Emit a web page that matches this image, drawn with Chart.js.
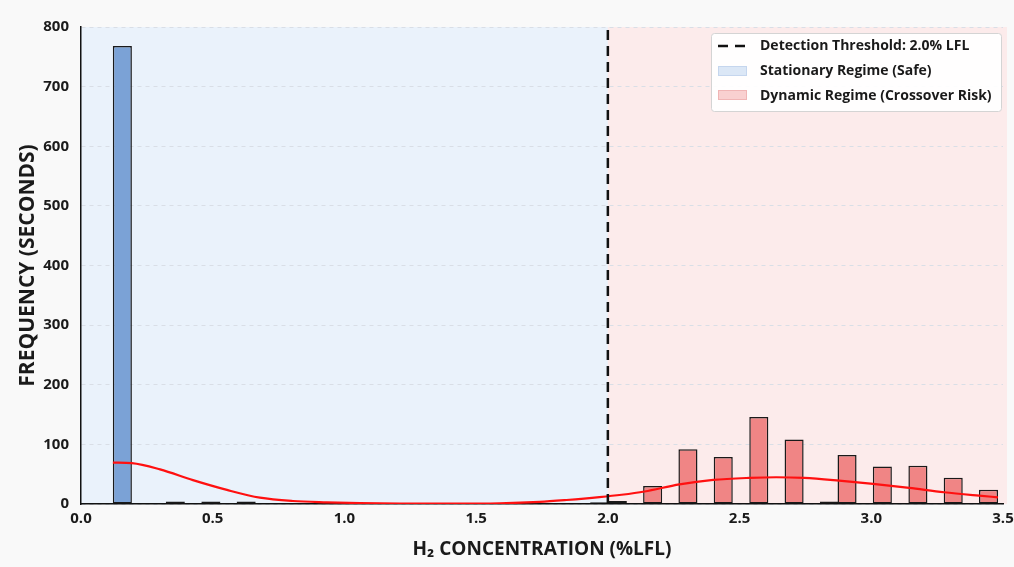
<!DOCTYPE html>
<html><head><meta charset="utf-8">
<script src="https://cdn.jsdelivr.net/npm/chart.js@4.4.1/dist/chart.umd.min.js"></script>
<style>html,body{margin:0;padding:0;background:#f7f7f7;}#wrap{width:1014px;height:567px;}</style>
</head><body><div id="wrap"><canvas id="c" width="1014" height="567"></canvas></div>
<script>
// Histogram bin centres (%LFL)
const binCenters = [0.157,0.224,0.291,0.358,0.425,0.493,0.560,0.627,0.694,0.761,
  0.828,0.895,0.962,1.029,1.096,1.164,1.231,1.298,1.365,1.432,
  1.499,1.566,1.633,1.700,1.767,1.835,1.902,1.969,2.036,2.103,
  2.170,2.237,2.304,2.371,2.438,2.506,2.573,2.640,2.707,2.774,
  2.841,2.908,2.975,3.042,3.109,3.177,3.244,3.311,3.378,3.445];
// Seconds in each bin, stationary regime
const stationaryCounts = [768,0,0,4,0,4,0,4,0,1,
  1,0,0,0,0,0,0,0,0,0,
  0,0,0,0,0,0,0,3,5,0,
  0,0,0,0,0,0,0,0,0,0,
  0,0,0,0,0,0,0,0,0,0];
// Seconds in each bin, dynamic regime
const dynamicCounts = [0,0,0,0,0,0,0,0,0,0,
  0,0,0,0,0,0,0,0,0,0,
  0,0,0,0,0,0,0,0,0,0,
  30,0,92,0,79,0,146,0,108,0,
  4,82,0,63,0,64,0,44,0,24];
// KDE curve
const kdeX = [0.121,0.193,0.300,0.425,0.554,0.679,0.804,0.933,1.058,1.21,1.40,1.589,1.741,1.843,1.968,2.052,2.139,2.272,2.400,2.537,2.639,2.745,2.878,3.007,3.144,3.276,3.409,3.481];
const kdeY = [69.5,68.5,58,40,23.6,10.6,5,2.8,1.5,0.8,0.7,1.2,3.5,6.7,11.5,15.5,21,33,40.4,43.8,44.9,43.8,39.2,33.7,27,19.7,14,11.2];
const THRESHOLD = 2.0;
const X_MIN = 0, X_MAX = 3.5, X_STEP = 0.5;
const Y_MIN = 0, Y_MAX = 800, Y_STEP = 100;
const legendLabels = ['Detection Threshold: 2.0% LFL','Stationary Regime (Safe)','Dynamic Regime (Crossover Risk)'];

const FONT = '"Open Sans", "DejaVu Sans", sans-serif';
const toXY = (xs, ys) => xs.map((x,i)=>({x:x, y:ys[i]}));
const toBars = (xs, ys) => xs.map((x,i)=>({x:x, y:(ys[i]===0 ? null : ys[i])}));

const bgPlugin = {
  id:'bg',
  beforeDraw(chart){
    const {ctx, chartArea:a, scales:{x}} = chart;
    ctx.save();
    ctx.fillStyle = '#f9f9f9';
    ctx.fillRect(0,0,chart.width,chart.height);
    const xt = x.getPixelForValue(THRESHOLD);
    ctx.fillStyle = '#eaf2fb';
    ctx.fillRect(a.left, a.top, xt-a.left, a.bottom-a.top);
    ctx.fillStyle = '#fcebeb';
    ctx.fillRect(xt, a.top, a.right-xt+4, a.bottom-a.top);
    ctx.restore();
  }
};
const legendPlugin = {
  id:'customLegend',
  afterDraw(chart){
    const ctx = chart.ctx;
    const bx=711, by=33, bw=290, bh=78;
    ctx.save();
    ctx.fillStyle='rgba(255,255,255,0.92)';
    ctx.strokeStyle='#d4d4d4';
    ctx.lineWidth=1;
    ctx.beginPath();
    ctx.roundRect(bx+0.5,by+0.5,bw,bh,3);
    ctx.fill(); ctx.stroke();
    ctx.strokeStyle='#111'; ctx.lineWidth=2.5; ctx.setLineDash([10,7]);
    ctx.beginPath(); ctx.moveTo(718,46); ctx.lineTo(746,46); ctx.stroke();
    ctx.setLineDash([]);
    ctx.lineWidth=1;
    ctx.fillStyle='#dbe7f6'; ctx.strokeStyle='#c5d6ee';
    ctx.fillRect(718,66,29,10); ctx.strokeRect(718.5,66.5,28,9);
    ctx.fillStyle='#f9d0d0'; ctx.strokeStyle='#f0b5b5';
    ctx.fillRect(718,90,29,10); ctx.strokeRect(718.5,90.5,28,9);
    ctx.fillStyle='#1a1a1a';
    ctx.font='bold 14px '+FONT;
    ctx.textBaseline='middle'; ctx.textAlign='left';
    ctx.fillText(legendLabels[0],760,46);
    ctx.fillText(legendLabels[1],760,71);
    ctx.fillText(legendLabels[2],760,96);
    ctx.restore();
  }
};

new Chart(document.getElementById('c'), {
  type:'bar',
  data:{
    datasets:[
      {type:'line', label:legendLabels[0], data:[{x:THRESHOLD,y:Y_MIN},{x:THRESHOLD,y:Y_MAX}],
        borderColor:'#111', borderWidth:2.5, borderDash:[10,6], pointRadius:0, order:0},
      {type:'line', label:'KDE', data:toXY(kdeX,kdeY), borderColor:'#ff1010', borderWidth:2.2,
        pointRadius:0, cubicInterpolationMode:'monotone', fill:false, order:1},
      {label:legendLabels[1], data:toBars(binCenters,stationaryCounts), backgroundColor:'#7ba2d6',
        borderColor:'#1a1a1a', borderWidth:1.5, borderSkipped:false,
        grouped:false, categoryPercentage:1, barPercentage:1.08, order:2},
      {label:legendLabels[2], data:toBars(binCenters,dynamicCounts), backgroundColor:'#f08585',
        borderColor:'#1a1a1a', borderWidth:1.5, borderSkipped:false,
        grouped:false, categoryPercentage:1, barPercentage:1.08, order:2}
    ]
  },
  options:{
    responsive:false, animation:false, devicePixelRatio:1,
    layout:{padding:{top:27,right:11,left:0,bottom:0}},
    plugins:{legend:{display:false}, tooltip:{enabled:false}},
    scales:{
      x:{type:'linear', min:X_MIN, max:X_MAX, offset:false,
        ticks:{stepSize:X_STEP, color:'#1a1a1a', font:{family:FONT,size:15,weight:'bold'}, padding:6,
          callback:v=>Number(v).toFixed(1), maxRotation:0},
        grid:{display:false, drawTicks:false},
        border:{display:true, color:'#111', width:1.5},
        title:{display:true, text:'H₂ CONCENTRATION (%LFL)', color:'#1a1a1a',
          font:{family:FONT,size:19,weight:'bold'}, padding:{top:4,bottom:6}},
        afterFit:s=>{s.height=63; s.paddingRight=0; s.paddingLeft=0;}
      },
      y:{type:'linear', min:Y_MIN, max:Y_MAX,
        ticks:{stepSize:Y_STEP, color:'#1a1a1a', font:{family:FONT,size:15,weight:'bold'}, padding:12},
        grid:{color:'#d9dee6', lineWidth:1, drawTicks:false},
        border:{display:true, color:'#111', width:1.5, dash:[4,4]},
        title:{display:true, text:'FREQUENCY (SECONDS)', color:'#1a1a1a',
          font:{family:FONT,size:21,weight:'bold'}, padding:{top:15,bottom:0}},
        afterFit:s=>{s.width=81;}
      }
    }
  },
  plugins:[bgPlugin, legendPlugin]
});
</script></body></html>
